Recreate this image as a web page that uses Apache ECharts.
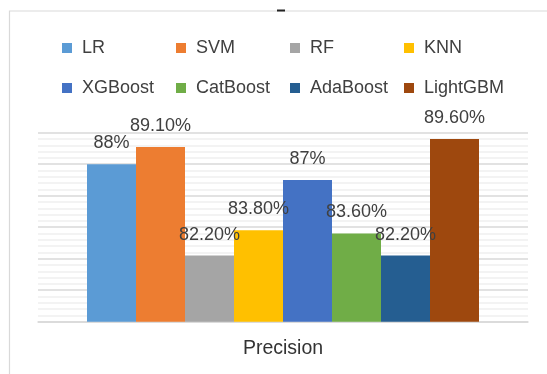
<!DOCTYPE html>
<html>
<head>
<meta charset="utf-8">
<script src="https://cdn.jsdelivr.net/npm/echarts@6/dist/echarts.min.js"></script>
<style>
  html, body { margin: 0; padding: 0; background: #ffffff; }
  #chart { width: 547px; height: 374px; }
</style>
</head>
<body>
<div id="chart"></div>
<script>
// Precision of each classifier
const categories = ['Precision'];
const models = ['LR', 'SVM', 'RF', 'KNN', 'XGBoost', 'CatBoost', 'AdaBoost', 'LightGBM'];
const precision = [88, 89.1, 82.2, 83.8, 87, 83.6, 82.2, 89.6];
const valueLabels = ['88%', '89.10%', '82.20%', '83.80%', '87%', '83.60%', '82.20%', '89.60%'];
const colors = ['#5B9BD5', '#ED7D31', '#A5A5A5', '#FFC000', '#4472C4', '#70AD47', '#255E91', '#9E480E'];

const FONT = '"Liberation Sans", Arial, sans-serif';

const series = models.map((name, i) => ({
  name: name,
  type: 'bar',
  data: [precision[i]],
  itemStyle: { color: colors[i] },
  barGap: '0%',
  barCategoryGap: '20%',
  label: {
    show: true,
    position: 'top',
    distance: 12,
    color: '#404040',
    fontFamily: FONT,
    fontSize: 18,
    formatter: () => valueLabels[i]
  }
}));

// Legend laid out as a 4-column, 2-row table: one legend component per entry
const legendCols = [57, 171, 285, 399];
const legendRows = [34, 74];
const legends = models.map((name, i) => ({
  data: [name],
  left: legendCols[i % 4],
  top: legendRows[Math.floor(i / 4)],
  icon: 'rect',
  itemWidth: 10,
  itemHeight: 10,
  formatter: (n) => ' ' + n,
  textStyle: { fontFamily: FONT, fontSize: 18, color: '#404040' }
}));

const chart = echarts.init(document.getElementById('chart'), null, { renderer: 'canvas' });
chart.setOption({
  animation: false,
  backgroundColor: '#ffffff',
  color: colors,
  legend: legends,
  grid: { left: 38, right: 19, top: 132.7, bottom: 52.3, containLabel: false },
  xAxis: {
    type: 'category',
    data: categories,
    axisLine: { show: true, lineStyle: { color: '#d9d9d9', width: 1.5 } },
    axisTick: { show: false },
    axisLabel: {
      margin: 17,
      fontFamily: FONT,
      fontSize: 19.5,
      color: '#333333'
    }
  },
  yAxis: {
    type: 'value',
    min: 78,
    max: 90,
    interval: 2,
    axisLine: { show: false },
    axisTick: { show: false },
    axisLabel: { show: false },
    splitLine: { show: true, lineStyle: { color: '#d9d9d9', width: 1.5 } },
    minorTick: { show: false, splitNumber: 5 },
    minorSplitLine: { show: true, lineStyle: { color: '#efefef', width: 1.5 } }
  },
  series: series,
  graphic: [
    {
      type: 'rect',
      silent: true,
      shape: { x: 9.5, y: 11, width: 700, height: 500 },
      style: { fill: null, stroke: '#d9d9d9', lineWidth: 1.2 }
    },
    {
      type: 'rect',
      silent: true,
      shape: { x: 277, y: 9.5, width: 8, height: 2 },
      style: { fill: '#222222' }
    }
  ]
});
</script>
</body>
</html>
